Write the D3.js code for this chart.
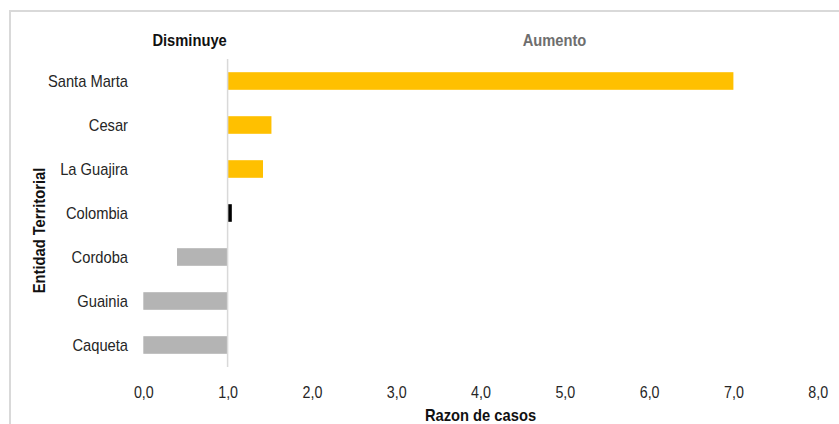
<!DOCTYPE html>
<html>
<head>
<meta charset="utf-8">
<script src="https://cdn.jsdelivr.net/npm/d3@7/dist/d3.min.js"></script>
<style>
  html, body { margin: 0; padding: 0; background: #fff; }
  svg { display: block; }
  text { font-family: "Liberation Sans", Arial, sans-serif; }
</style>
</head>
<body>
<svg id="chart" width="839" height="424"></svg>
<script>
// Razón de casos por entidad territorial (1,0 = sin cambio)
const categories = ["Santa Marta", "Cesar", "La Guajira", "Colombia", "Cordoba", "Guainia", "Caqueta"];
const ratios = [7.0, 1.52, 1.42, 1.05, 0.40, 0.0, 0.0];
const groups = ["aumento", "aumento", "aumento", "pais", "disminuye", "disminuye", "disminuye"];
const xTicks = [0, 1, 2, 3, 4, 5, 6, 7, 8];
const groupColors = { aumento: "#FFC000", pais: "#000000", disminuye: "#B4B4B4" };

const svg = d3.select("#chart");
const W = 839, H = 424;

// outer frame
svg.append("rect")
  .attr("x", 10).attr("y", 11)
  .attr("width", W + 10).attr("height", H + 10)
  .attr("fill", "none").attr("stroke", "#D9D9D9").attr("stroke-width", 2);

const x = d3.scaleLinear().domain([0, 8]).range([143.3, 817.7]);
const y = d3.scaleBand().domain(categories).range([59, 367]).paddingInner(0.6).paddingOuter(0.3);

const locale = d3.formatLocale({ decimal: ",", thousands: ".", grouping: [3], currency: ["$", ""] });
const fmt = locale.format(".1f");

// bars grow from the reference value 1,0
const base = 1;
svg.append("g").selectAll("rect")
  .data(categories.map((c, i) => ({ c, v: ratios[i], g: groups[i] })))
  .join("rect")
  .attr("x", d => Math.min(x(base), x(d.v)))
  .attr("width", d => Math.abs(x(d.v) - x(base)))
  .attr("y", d => y(d.c))
  .attr("height", y.bandwidth())
  .attr("fill", d => groupColors[d.g]);

// reference line at 1,0
svg.append("line")
  .attr("x1", x(base)).attr("x2", x(base))
  .attr("y1", 59).attr("y2", 367)
  .attr("stroke", "#D9D9D9").attr("stroke-width", 1.5);

// category axis
const yAxis = d3.axisLeft(y).tickSize(0).tickPadding(0);
const gy = svg.append("g").attr("transform", "translate(128,0)").call(yAxis);
gy.select(".domain").remove();
gy.selectAll("text").attr("font-size", 17).attr("fill", "#262626")
  .attr("font-family", null).attr("dy", "0.36em");

// value axis
const xAxis = d3.axisBottom(x).tickValues(xTicks).tickFormat(fmt).tickSize(0).tickPadding(0);
const gx = svg.append("g").attr("transform", "translate(0,385)").call(xAxis);
gx.select(".domain").remove();
gx.selectAll("text").attr("font-size", 16.5).attr("fill", "#262626")
  .attr("font-family", null).attr("dy", "0.78em");

// titles
svg.append("text").attr("x", x(0.99)).attr("y", 46).attr("text-anchor", "end")
  .attr("font-size", 17).attr("font-weight", "bold").attr("fill", "#111").text("Disminuye");
svg.append("text").attr("x", 554.5).attr("y", 46).attr("text-anchor", "middle")
  .attr("font-size", 17).attr("font-weight", "bold").attr("fill", "#6E6E6E").text("Aumento");
svg.append("text").attr("x", (x(0) + x(8)) / 2).attr("y", 421).attr("text-anchor", "middle")
  .attr("font-size", 17).attr("font-weight", "bold").attr("fill", "#111").text("Razon de casos");
svg.append("text").attr("transform", "translate(44.5,230.5) rotate(-90)").attr("text-anchor", "middle")
  .attr("font-size", 17).attr("font-weight", "bold").attr("fill", "#111").text("Entidad Territorial");

// narrow face: condense every label horizontally
svg.selectAll("text").each(function () {
  const len = this.getComputedTextLength();
  d3.select(this).attr("textLength", len * 0.865).attr("lengthAdjust", "spacingAndGlyphs");
});
</script>
</body>
</html>
